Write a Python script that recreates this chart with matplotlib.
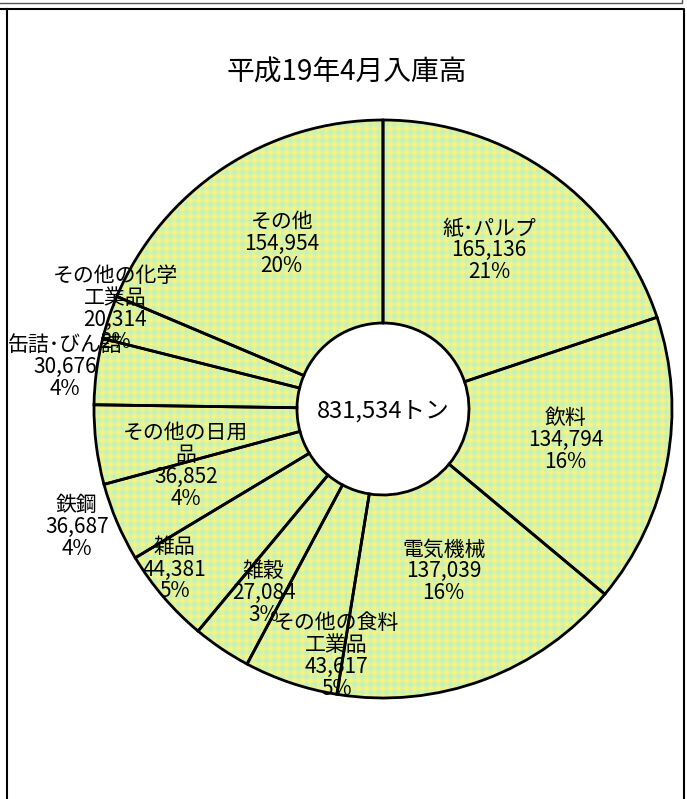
import numpy as np
import matplotlib
matplotlib.use("Agg")
import matplotlib.pyplot as plt
from matplotlib.patches import Circle

fams = ['Liberation Sans Narrow', 'Noto Sans CJK JP', 'DejaVu Sans']
plt.rcParams['font.family'] = fams

# data
title = "平成19年4月入庫高"
total_label = "831,534トン"
names = ["紙･パルプ", "飲料", "電気機械", "その他の食料\n工業品", "雑穀", "雑品",
         "鉄鋼", "その他の日用\n品", "缶詰･びん詰", "その他の化学\n工業品", "その他"]
values = [165136, 134794, 137039, 43617, 27084, 44381,
          36687, 36852, 30676, 20314, 154954]
percents = ["21%", "16%", "16%", "5%", "3%", "5%", "4%", "4%", "4%", "2%", "20%"]

# label placement (radius as fraction of outer radius, angle shift in degrees clockwise)
label_r = [0.66, 0.64, 0.60, 0.87, 0.76, 0.91, 1.135, 0.71, 1.11, 0.99, 0.67]
label_shift = [-2, -1, 0, -8, -1, 3, 2, -9, 0, 2, 2]

W, H = 687, 799
fig = plt.figure(figsize=(W / 100, H / 100), dpi=100)
ax = fig.add_axes([0, 0, 1, 1])

cx, cy = 383, H - 409
R = 289
r_in = 86

wedges, _ = ax.pie(values, startangle=90, counterclock=False, radius=R, center=(cx, cy),
                   wedgeprops=dict(width=R - r_in, facecolor='none', edgecolor='black',
                                   linewidth=2.0, zorder=3))

# checkered yellow / mint texture inside the ring
p = 8.0
xs = np.arange(2 * R)
gx, gy = np.meshgrid(xs, xs)
f = 0.55 + 0.225 * (np.cos(2 * np.pi * gx / p) + np.cos(2 * np.pi * gy / p))
yellow = np.array([255, 242, 120]) / 255
mint = np.array([180, 242, 205]) / 255
tex = mint[None, None, :] * (1 - f[..., None]) + yellow[None, None, :] * f[..., None]
im = ax.imshow(tex, extent=[cx - R, cx + R, cy - R, cy + R], interpolation='bilinear', zorder=1)
clip = Circle((cx, cy), R, transform=ax.transData)
im.set_clip_path(clip)

ax.add_patch(Circle((cx, cy), r_in, facecolor='white', edgecolor='none', zorder=2))

for w, name, val, pc, rf, sh in zip(wedges, names, values, percents, label_r, label_shift):
    mid = np.deg2rad((w.theta1 + w.theta2) / 2 - sh)
    x = cx + rf * R * np.cos(mid)
    y = cy + rf * R * np.sin(mid)
    ax.text(x, y, f"{name}\n{val:,}\n{pc}", ha='center', va='center', fontsize=15,
            linespacing=1.0, multialignment='center', zorder=4)

ax.text(cx, cy - 2, total_label, ha='center', va='center', fontsize=17, zorder=4)
ax.text(347, H - 73, title, ha='center', va='center', fontsize=20, zorder=4)

# frame lines
ax.plot([0, 682, 682], [H - 3, H - 3, H], color='#555555', lw=1.0)
ax.plot([0, 684, 684], [H - 9, H - 9, 0], color='black', lw=1.5)
ax.plot([7, 7], [H - 9, 0], color='black', lw=1.5)

ax.set_xlim(0, W)
ax.set_ylim(0, H)
ax.set_aspect('equal')
ax.axis('off')

fig.savefig("out.png", dpi=100)
